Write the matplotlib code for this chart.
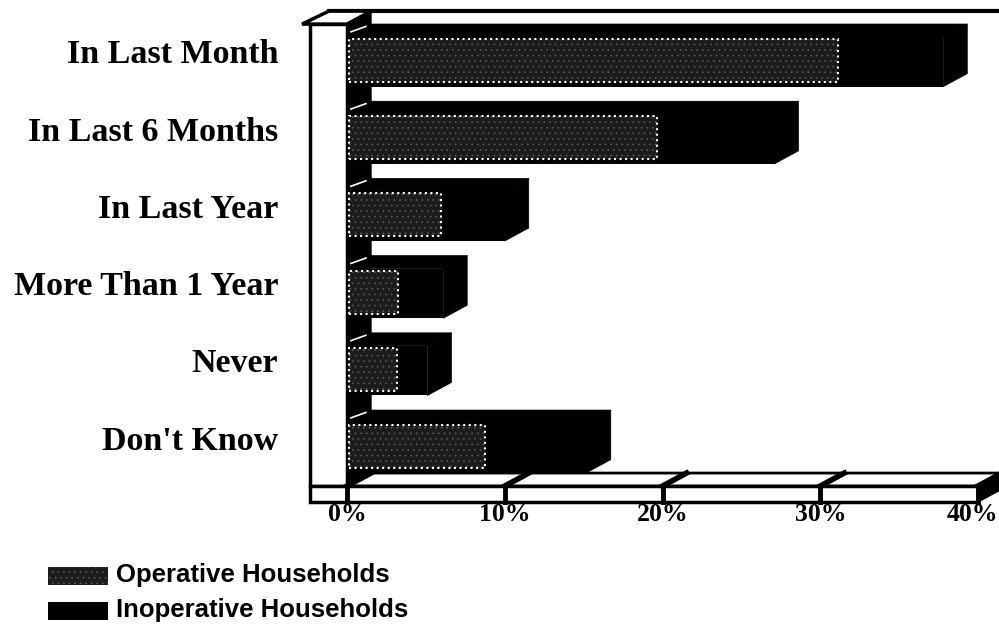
import matplotlib
matplotlib.use("Agg")
import matplotlib.pyplot as plt
from matplotlib.patches import Polygon, Rectangle
import numpy as np

# Values (percent of households)
categories = ["In Last Month", "In Last 6 Months", "In Last Year",
              "More Than 1 Year", "Never", "Don't Know"]
operative = [31.0, 19.5, 5.8, 3.1, 3.0, 8.6]
inoperative = [37.8, 27.1, 10.0, 6.1, 5.1, 15.2]
ticks = [0, 10, 20, 30, 40]
tick_labels = ["0%", "10%", "20%", "30%", "40%"]
series = ["Operative Households", "Inoperative Households"]

plt.rcParams["hatch.linewidth"] = 0.5

fig = plt.figure(figsize=(9.99, 6.3), dpi=100)
ax = fig.add_axes([300 / 999, 1 - 520 / 630, 699 / 999, 520 / 630])
ax.set_xlim(-2.98, 41.33)
ax.set_ylim(-1.023, 5.712)
ax.axis("off")

# 3D depth offset in data units
DX = 1.52
DY = 0.168
FLOOR = -0.583
FLOOR_BOT = -0.79
WALL_L = -2.35
TOP = 5.40
XMAX = ticks[-1]

pos = np.arange(len(categories))[::-1]

def poly(pts, fc, ec="black", lw=1.0, z=1):
  ax.add_patch(Polygon(pts, closed=True, facecolor=fc, edgecolor=ec, linewidth=lw, zorder=z))

# Back wall outline
ax.plot([WALL_L + 1.2, XMAX + DX + 0.2], [TOP + DY, TOP + DY], color="black", lw=3, zorder=1, clip_on=False)
ax.plot([XMAX + DX + 0.1] * 2, [TOP + DY, FLOOR + DY], color="#999999", lw=1, ls="--", zorder=1)

# Left wall: front face, top cap and dark side face
ax.add_patch(Rectangle((WALL_L, FLOOR), -WALL_L, TOP - FLOOR, facecolor="white",
                       edgecolor="black", linewidth=2.5, zorder=2))
poly([(WALL_L - 0.5, TOP), (0, TOP), (DX, TOP + DY), (WALL_L + 1.2, TOP + DY)], "white", lw=2.5, z=2)
poly([(0, TOP), (DX, TOP + DY), (DX, FLOOR + DY), (0, FLOOR)], "black", z=2)

# Floor: top, front face and right end
poly([(0, FLOOR), (XMAX, FLOOR), (XMAX + DX, FLOOR + DY), (DX, FLOOR + DY)], "white", lw=2, z=2)
ax.add_patch(Rectangle((WALL_L, FLOOR_BOT), XMAX - WALL_L, FLOOR - FLOOR_BOT, facecolor="white",
                       edgecolor="black", linewidth=2.5, zorder=2))
poly([(XMAX, FLOOR), (XMAX + DX, FLOOR + DY), (XMAX + DX, FLOOR_BOT + DY), (XMAX, FLOOR_BOT)], "black", z=2)

for t in ticks:
  ax.plot([t, t + DX], [FLOOR, FLOOR + DY], color="black", lw=4, zorder=3)
  ax.plot([t, t], [FLOOR, FLOOR_BOT], color="black", lw=3.5, zorder=3)

# Bars: black inoperative block with the operative face drawn on it
for y, op, inop in zip(pos, operative, inoperative):
  top = y + 0.233
  bot = y - 0.41
  ax.barh(y - 0.0885, inop, height=top - bot, left=0, color="black", zorder=4)
  poly([(0, top), (inop, top), (inop + DX, top + DY), (DX, top + DY)], "black", lw=0.5, z=4)
  poly([(inop, bot), (inop + DX, bot + DY), (inop + DX, top + DY), (inop, top)], "black", lw=0.5, z=4)
  ax.barh(y - 0.0715, op, height=0.557, left=0.15, color="#1c1c1c", edgecolor="#5a5a5a",
          hatch="...", linewidth=0, zorder=5)
  ax.barh(y - 0.0715, op, height=0.557, left=0.15, fill=False, edgecolor="white",
          linestyle=":", linewidth=1.5, zorder=6)
  ax.plot([0.25, 1.2], [y + 0.3, y + 0.37], color="white", lw=1.2, zorder=6)

# Category labels
for y, name in zip(pos, categories):
  ax.text(-4.37, y, name, ha="right", va="center", fontsize=24.5, fontweight="bold",
          family="Liberation Serif", clip_on=False)

# Tick labels (last one kept inside the right edge)
for t, lab in zip(ticks, tick_labels):
  if t == ticks[-1]:
    ax.text(ax.get_xlim()[1] - 0.05, -0.955, lab, ha="right", va="center", fontsize=18.5,
            fontweight="bold", family="Liberation Serif", clip_on=False)
  else:
    ax.text(t, -0.955, lab, ha="center", va="center", fontsize=18.5, fontweight="bold",
            family="Liberation Serif", clip_on=False)

# Legend
fig.patches.append(Rectangle((48 / 999, 1 - 585 / 630), 60 / 999, 18 / 630, transform=fig.transFigure,
                             facecolor="#1c1c1c", edgecolor="#5a5a5a", hatch="...", linewidth=0))
fig.patches.append(Rectangle((48 / 999, 1 - 620 / 630), 60 / 999, 18 / 630, transform=fig.transFigure,
                             facecolor="black", edgecolor="black", linewidth=0))
fig.text(116 / 999, 1 - 575 / 630, series[0], ha="left", va="center", fontsize=18.5,
         fontweight="bold", family="Liberation Sans")
fig.text(116 / 999, 1 - 610 / 630, series[1], ha="left", va="center", fontsize=18.5,
         fontweight="bold", family="Liberation Sans")

fig.savefig("out.png", dpi=100)
